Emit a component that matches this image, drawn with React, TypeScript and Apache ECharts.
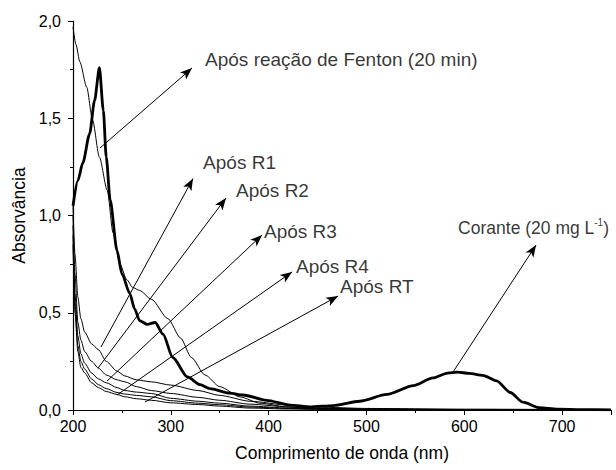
import React, { useEffect, useRef } from "react";
import * as echarts from "echarts";

const FONT = "Liberation Sans";

// Dye (Corante 20 mg/L) – thick line
const dyeNm = [200, 205, 210, 217, 222, 227, 231, 234, 238, 245, 250, 258, 263, 268, 276, 284, 292, 302, 317, 330, 340, 360, 374, 398, 422, 442, 466, 493, 521, 548, 568, 583, 593, 605, 619, 633, 647, 660, 677, 695, 720, 750];
const dyeAbs = [1.05, 1.18, 1.27, 1.42, 1.59, 1.76, 1.54, 1.3, 1.08, 0.82, 0.7, 0.6, 0.52, 0.46, 0.44, 0.45, 0.39, 0.27, 0.17, 0.13, 0.11, 0.087, 0.077, 0.05, 0.025, 0.016, 0.023, 0.045, 0.08, 0.125, 0.165, 0.19, 0.195, 0.188, 0.178, 0.15, 0.09, 0.04, 0.012, 0.004, 0.002, 0.001];

// After Fenton reaction (20 min)
const fentonNm = [200, 203, 207, 214, 220, 227, 235, 241, 248, 255, 261, 268, 280, 297, 310, 321, 335, 350, 371, 391, 420, 450, 500, 600, 750];
const fentonAbs = [1.97, 1.88, 1.79, 1.66, 1.49, 1.3, 1.13, 0.91, 0.75, 0.67, 0.63, 0.615, 0.57, 0.47, 0.37, 0.27, 0.18, 0.12, 0.067, 0.035, 0.015, 0.006, 0.003, 0.002, 0.001];

// After R1..R4, RT
const rNm = [200, 202, 205, 208, 212, 219, 226, 234, 245, 253, 265, 280, 300, 328, 350, 381, 420, 450, 500, 600, 750];
const r1Abs = [1.05, 0.8, 0.58, 0.47, 0.4, 0.34, 0.31, 0.25, 0.2, 0.175, 0.155, 0.145, 0.128, 0.1, 0.075, 0.045, 0.025, 0.015, 0.008, 0.004, 0.002];
const r2Abs = [1.0, 0.7, 0.45, 0.36, 0.3, 0.25, 0.215, 0.18, 0.155, 0.145, 0.12, 0.1, 0.085, 0.065, 0.05, 0.03, 0.016, 0.01, 0.005, 0.003, 0.001];
const r3Abs = [0.95, 0.6, 0.38, 0.29, 0.24, 0.19, 0.16, 0.14, 0.115, 0.1, 0.092, 0.085, 0.06, 0.045, 0.035, 0.02, 0.01, 0.007, 0.004, 0.002, 0.001];
const r4Abs = [0.9, 0.55, 0.33, 0.25, 0.21, 0.16, 0.13, 0.11, 0.09, 0.082, 0.075, 0.068, 0.048, 0.035, 0.027, 0.015, 0.008, 0.005, 0.003, 0.002, 0.001];
const rtAbs = [0.85, 0.5, 0.3, 0.22, 0.19, 0.14, 0.115, 0.095, 0.08, 0.068, 0.058, 0.05, 0.037, 0.028, 0.02, 0.01, 0.005, 0.003, 0.002, 0.001, 0.001];

// Annotations: text, label anchor (left-middle), arrow start, arrow end (data coords)
const annTexts = ["Após reação de Fenton (20 min)", "Após R1", "Após R2", "Após R3", "Após R4", "Após RT", "{a|Corante (20 mg L}{s|-1}{a|)}"];
const annLabelAt = [[335, 1.8], [333, 1.275], [366.7, 1.13], [395.3, 0.92], [428, 0.74], [473, 0.633], [593.7, 0.935]];
const annFrom = [[227.6, 1.347], [228.6, 0.324], [225.6, 0.216], [234.8, 0.149], [245, 0.077], [273.6, 0.041], [588.5, 0.195]];
const annTo = [[321.7, 1.758], [322.7, 1.19], [356.4, 1.09], [393.3, 0.9], [424, 0.71], [471, 0.586], [673.4, 0.848]];

const xTicksHidden = [750];

function pairs(xs: number[], ys: number[]) {
  return xs.map((x, i) => [x, ys[i]]);
}

export default function App() {
  const ref = useRef<HTMLDivElement>(null);
  useEffect(() => {
    if (!ref.current) return;
    const chart = echarts.init(ref.current, null, { renderer: "svg" });
    const thin = (name: string, xs: number[], ys: number[]) => ({
      name,
      type: "line",
      data: pairs(xs, ys),
      showSymbol: false,
      smooth: 0.25,
      smoothMonotone: "x",
      lineStyle: { color: "#000", width: 1 },
      z: 2,
    });
    const option: any = {
      animation: false,
      backgroundColor: "#fff",
      textStyle: { fontFamily: FONT },
      grid: { left: 73, right: 5, top: 21, bottom: 60 },
      xAxis: {
        type: "value",
        min: 200,
        max: 750,
        interval: 100,
        name: "Comprimento de onda (nm)",
        nameLocation: "middle",
        nameGap: 34,
        nameTextStyle: { color: "#000", fontSize: 17.5, fontFamily: FONT },
        axisLine: { lineStyle: { color: "#000", width: 1.2 } },
        axisTick: { length: 5, lineStyle: { color: "#000" } },
        minorTick: { show: true, splitNumber: 2, length: 3, lineStyle: { color: "#000" } },
        splitLine: { show: false },
        axisLabel: {
          color: "#000",
          fontSize: 16,
          fontFamily: FONT,
          margin: 8,
          formatter: (v: number) => (xTicksHidden.includes(v) ? "" : String(v)),
        },
      },
      yAxis: {
        type: "value",
        min: 0,
        max: 2,
        interval: 0.5,
        name: "Absorvância",
        nameLocation: "middle",
        nameGap: 44,
        nameTextStyle: { color: "#000", fontSize: 17.5, fontFamily: FONT },
        axisLine: { show: true, lineStyle: { color: "#000", width: 1.2 } },
        axisTick: { show: true, length: 5, lineStyle: { color: "#000" } },
        minorTick: { show: true, splitNumber: 2, length: 3, lineStyle: { color: "#000" } },
        splitLine: { show: false },
        axisLabel: {
          color: "#000",
          fontSize: 16,
          fontFamily: FONT,
          margin: 12,
          formatter: (v: number) => v.toFixed(1).replace(".", ","),
        },
      },
      series: [
        thin("Após reação de Fenton (20 min)", fentonNm, fentonAbs),
        thin("Após R1", rNm, r1Abs),
        thin("Após R2", rNm, r2Abs),
        thin("Após R3", rNm, r3Abs),
        thin("Após R4", rNm, r4Abs),
        thin("Após RT", rNm, rtAbs),
        {
          name: "Corante",
          type: "line",
          data: pairs(dyeNm, dyeAbs),
          showSymbol: false,
          smooth: 0.25,
          smoothMonotone: "x",
          lineStyle: { color: "#000", width: 2.8 },
          z: 3,
        },
        {
          name: "labels",
          type: "scatter",
          symbolSize: 0,
          silent: true,
          data: annTexts.map((t, i) => ({ value: annLabelAt[i], name: t })),
          label: {
            show: true,
            position: "right",
            distance: 0,
            formatter: "{b}",
            color: "#000",
            fontSize: 19,
            fontFamily: FONT,
            rich: {
              a: { fontSize: 17.5, fontFamily: FONT, color: "#000" },
              s: { fontSize: 10, fontFamily: FONT, color: "#000", verticalAlign: "top", padding: [0, 0, 11, 0] },
            },
          },
          markLine: {
            silent: true,
            symbol: ["none", "arrow"],
            symbolSize: [7, 12],
            label: { show: false },
            lineStyle: { color: "#000", width: 1, type: "solid" },
            data: annFrom.map((f, i) => [{ coord: f }, { coord: annTo[i] }]),
          },
        },
      ],
    };
    chart.setOption(option);
    return () => chart.dispose();
  }, []);
  return (
    <div
      ref={ref}
      style={{ position: "fixed", left: 0, top: 0, width: 616, height: 470, background: "#fff" }}
    />
  );
}
